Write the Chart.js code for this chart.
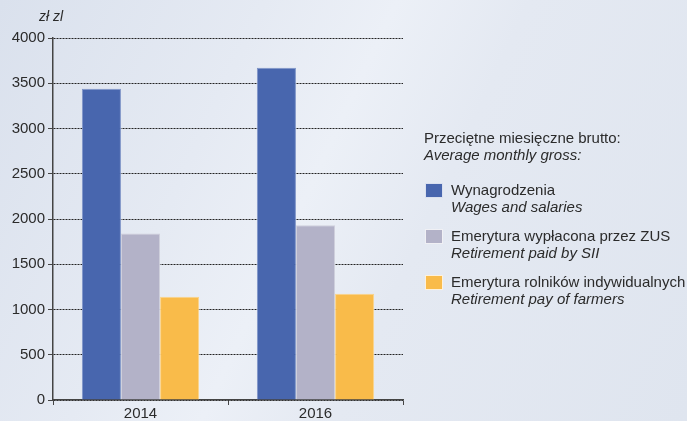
<!DOCTYPE html>
<html>
<head>
<meta charset="utf-8">
<script src="https://cdn.jsdelivr.net/npm/chart.js@4"></script>
<style>
  html, body { margin: 0; padding: 0; }
  body {
    width: 687px; height: 421px; overflow: hidden; position: relative;
    background: linear-gradient(115deg, #dae1ed 0%, #e5eaf3 30%, #ecf0f7 45%, #e4e9f2 60%, #dfe5ef 100%);
    font-family: "Liberation Sans", Arial, sans-serif;
  }
  #wrap { position: absolute; left: 0; top: 0; width: 687px; height: 421px; }
  #legend { position: absolute; left: 424px; top: 129px; color: #2b2b2b; font-size: 15px; line-height: 17px; }
  #legend .head { margin-bottom: 18px; }
  #legend .item { position: relative; padding-left: 27px; margin-bottom: 12px; }
  #legend .box { position: absolute; left: 1px; top: 2px; width: 16px; height: 13px; border: 1px solid rgba(255,255,255,0.8); }
  i { font-style: italic; }
</style>
</head>
<body>
<div id="wrap"><canvas id="chart" width="687" height="421"></canvas></div>
<div id="legend"></div>
<script>
var years = ['2014', '2016'];
var wages = [3440, 3670];
var zusPension = [1840, 1930];
var farmersPension = [1140, 1175];
var unitLabel = 'zł zl';
var legendHead = ['Przeciętne miesięczne brutto:', 'Average monthly gross:'];
var seriesPl = ['Wynagrodzenia', 'Emerytura wypłacona przez ZUS', 'Emerytura rolników indywidualnych'];
var seriesEn = ['Wages and salaries', 'Retirement paid by SII', 'Retirement pay of farmers'];
var colors = ['#4866ae', '#b3b2c8', '#f9bb4a'];
var borders = ['#7f95c8', '#cfcfdc', '#fbd48c'];

var values = [wages, zusPension, farmersPension];
var datasets = [];
for (var i = 0; i < values.length; i++) {
  datasets.push({
    label: seriesPl[i],
    data: values[i],
    backgroundColor: colors[i],
    borderColor: borders[i],
    borderWidth: 1,
    barPercentage: 1,
    categoryPercentage: 0.67
  });
}

// legend (HTML, two lines each, english in italics)
var html = '<div class="head">' + legendHead[0] + '<br><i>' + legendHead[1] + '</i></div>';
for (var i = 0; i < seriesPl.length; i++) {
  html += '<div class="item"><span class="box" style="background:' + colors[i] + '"></span>' +
    seriesPl[i] + '<br><i>' + seriesEn[i] + '</i></div>';
}
document.getElementById('legend').innerHTML = html;

var unitPlugin = {
  id: 'unit',
  afterDraw: function(chart) {
    var ctx = chart.ctx;
    ctx.save();
    ctx.font = 'italic 14px "Liberation Sans", Arial, sans-serif';
    ctx.fillStyle = '#2b2b2b';
    ctx.textBaseline = 'middle';
    ctx.fillText(unitLabel, 39, 17);
    ctx.restore();
  }
};

Chart.defaults.font.family = '"Liberation Sans", Arial, sans-serif';
Chart.defaults.color = '#2b2b2b';

new Chart(document.getElementById('chart'), {
  type: 'bar',
  data: { labels: years, datasets: datasets },
  plugins: [unitPlugin],
  options: {
    responsive: false,
    animation: false,
    layout: { padding: { top: 38, right: 284, left: 0, bottom: 0 } },
    plugins: { legend: { display: false }, tooltip: { enabled: false } },
    scales: {
      x: {
        offset: true,
        grid: { display: true, drawOnChartArea: false, drawTicks: true, tickLength: 5, color: '#444', offset: true },
        border: { display: true, color: '#444', width: 1.5 },
        ticks: { font: { size: 15 }, padding: 0, color: '#2b2b2b' },
        afterFit: function(s) { s.height = 21; }
      },
      y: {
        min: 0, max: 4000,
        ticks: {
          stepSize: 500, font: { size: 15 }, padding: 3, color: '#2b2b2b',
          callback: function(v) { return String(v); }
        },
        grid: { color: '#222', lineWidth: 1, tickLength: 5, tickBorderDash: [], tickColor: '#444' },
        border: { display: true, color: '#444', width: 1.5, dash: [2, 1] },
        afterFit: function(s) { s.width = 53; }
      }
    }
  }
});
</script>
</body>
</html>
